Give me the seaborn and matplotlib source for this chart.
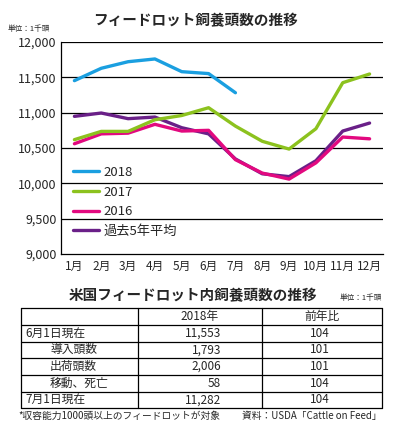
import pandas as pd
import matplotlib.pyplot as plt
import seaborn as sns

months = ["1月", "2月", "3月", "4月", "5月", "6月", "7月", "8月", "9月", "10月", "11月", "12月"]
avg5 = [10948, 10995, 10915, 10938, 10787, 10700, 10345, 10135, 10095, 10320, 10740, 10853]
y2016 = [10560, 10700, 10710, 10835, 10740, 10750, 10335, 10145, 10060, 10290, 10655, 10630]
y2017 = [10618, 10735, 10735, 10900, 10960, 11070, 10810, 10595, 10485, 10773, 11424, 11547]
y2018 = [11453, 11628, 11721, 11760, 11580, 11553, 11282]

series_names = ["過去5年平均", "2016", "2017", "2018"]
series_vals = [avg5, y2016, y2017, y2018]
colors = {"2018": "#1a9fe0", "2017": "#8cc21e", "2016": "#e2097f", "過去5年平均": "#6a2088"}

table_title = "米国フィードロット内飼養頭数の推移"
col_heads = ["2018年", "前年比"]
row_labels = ["6月1日現在", "導入頭数", "出荷頭数", "移動、死亡", "7月1日現在"]
row_indent = [False, True, True, True, False]
row_counts = ["11,553", "1,793", "2,006", "58", "11,282"]
row_ratio = ["104", "101", "101", "104", "104"]

rows = []
for name, vals in zip(series_names, series_vals):
    for i, v in enumerate(vals):
        rows.append({"series": name, "month": i + 1, "value": v})
df = pd.DataFrame(rows)

sns.set_theme(style="white")
plt.rcParams["font.family"] = ["Noto Sans CJK JP", "DejaVu Sans"]

W, H = 398, 433
fig = plt.figure(figsize=(W / 100, H / 100), dpi=100)
ax = fig.add_axes([61 / W, (H - 254) / H, 322 / W, 212 / H])

for name in series_names:
    sns.lineplot(data=df[df.series == name], x="month", y="value", ax=ax,
                 color=colors[name], linewidth=2.4, label=name)

ax.set_xlim(0.5, 12.5)
ax.set_ylim(9000, 12000)
ax.set_yticks(range(9000, 12001, 500))
ax.set_yticklabels([f"{v:,}" for v in range(9000, 12001, 500)], fontsize=9)
ax.set_xticks(range(1, 13))
ax.set_xticklabels(months, fontsize=8.5)
ax.set_xticks([k + 0.5 for k in range(1, 12)], minor=True)
ax.tick_params(axis="x", which="major", length=0, pad=4)
ax.tick_params(axis="x", which="minor", length=4, direction="in", color="black", width=0.8)
ax.tick_params(axis="y", length=0, pad=3)
ax.set_xlabel("")
ax.set_ylabel("")
for v in range(9500, 12001, 500):
    ax.axhline(v, color="black", linewidth=0.9, zorder=0.5)
for s in ["top", "right"]:
    ax.spines[s].set_visible(False)
for s in ["left", "bottom"]:
    ax.spines[s].set_color("black")
    ax.spines[s].set_linewidth(0.9)

handles, labels = ax.get_legend_handles_labels()
order = ["2018", "2017", "2016", "過去5年平均"]
hmap = dict(zip(labels, handles))
leg = ax.legend([hmap[k] for k in order], order, loc="lower left",
                bbox_to_anchor=(0.0, 0.02), frameon=False, fontsize=9.5,
                handlelength=2.0, handletextpad=0.3, labelspacing=0.5)

fig.text(195 / W, 1 - 20 / H, "フィードロット飼養頭数の推移", ha="center", va="center",
         fontsize=10.5, fontweight="bold")
fig.text(8 / W, 1 - 29 / H, "単位：1千頭", ha="left", va="center", fontsize=5.5)

# table drawn in pixel coordinates
tx = fig.add_axes([0, 0, 1, 1], facecolor="none")
tx.set_xlim(0, W)
tx.set_ylim(H, 0)
tx.axis("off")

tx.text(193, 295, table_title, ha="center", va="center", fontsize=10.5, fontweight="bold")
tx.text(382, 298, "単位：1千頭", ha="right", va="center", fontsize=5.5)

ys = [308, 325, 341.5, 358, 375, 391.5, 408]
xl, xc1, xc2, xr = 20.5, 138, 262, 382
for y in ys:
    tx.plot([xl, xr], [y, y], color="black", linewidth=0.9)
for x in [xl, xc1, xc2, xr]:
    tx.plot([x, x], [ys[0], ys[-1]], color="black", linewidth=0.9)

fs = 8.5
tx.text(200, (ys[0] + ys[1]) / 2, col_heads[0], ha="center", va="center", fontsize=fs)
tx.text(322, (ys[0] + ys[1]) / 2, col_heads[1], ha="center", va="center", fontsize=fs)
for i in range(len(row_labels)):
    yc = (ys[i + 1] + ys[i + 2]) / 2
    tx.text(50 if row_indent[i] else 25, yc, row_labels[i], ha="left", va="center", fontsize=fs)
    tx.text(221, yc, row_counts[i], ha="right", va="center", fontsize=fs)
    tx.text(320, yc, row_ratio[i], ha="center", va="center", fontsize=fs)

tx.text(18, 416, "*収容能力1000頭以上のフィードロットが対象", ha="left", va="center", fontsize=7)
tx.text(382, 416, "資料：USDA「Cattle on Feed」", ha="right", va="center", fontsize=7)

fig.savefig("out.png", dpi=100)
